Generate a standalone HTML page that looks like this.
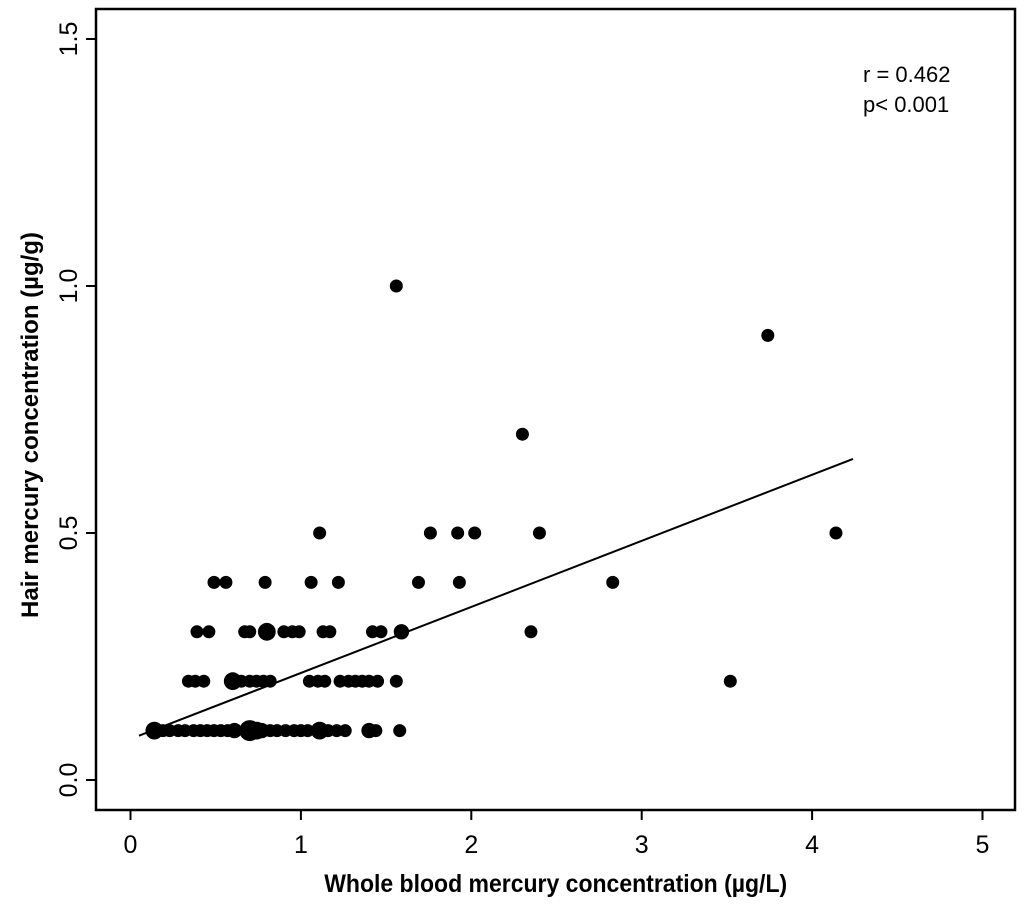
<!DOCTYPE html>
<html><head><meta charset="utf-8"><style>
body{margin:0;background:#fff;}
svg{display:block;font-family:"Liberation Sans",Arial,sans-serif;}
</style></head><body>
<svg id="chart" width="1024" height="911" viewBox="0 0 1024 911">
<rect x="96" y="9" width="919" height="801" fill="none" stroke="#000" stroke-width="2.5"/>
<g id="axes"></g>
<g id="points"></g>
<line id="fit" stroke="#000" stroke-width="2"/>
<text x="863" y="82" font-size="22">r = 0.462</text>
<text x="863" y="112" font-size="22">p&lt; 0.001</text>
<text x="556" y="892" font-size="25" font-weight="bold" text-anchor="middle" transform="scale(0.92,1) translate(48,0)">Whole blood mercury concentration (µg/L)</text>
<text transform="translate(38,425) rotate(-90)" font-size="24" font-weight="bold" text-anchor="middle">Hair mercury concentration (µg/g)</text>
</svg>
<script>
const xTicks=[0,1,2,3,4,5];
const yTicks=[0.0,0.5,1.0,1.5];
const yTickLabels=["0.0","0.5","1.0","1.5"];
const xVals=[0.49,0.56,0.79,1.06,1.22,1.69,1.93,2.83,
1.11,1.76,1.92,2.02,2.40,4.14,
0.39,0.46,0.67,0.70,0.80,0.90,0.95,0.99,1.13,1.17,1.42,1.47,1.59,2.35,
0.34,0.38,0.43,0.60,0.65,0.70,0.74,0.78,0.82,1.05,1.10,1.14,1.23,1.28,1.32,1.36,1.40,1.45,1.56,3.52,
0.14,0.19,0.23,0.28,0.32,0.37,0.41,0.45,0.49,0.53,0.57,0.61,0.70,0.74,0.77,0.82,0.86,0.91,0.96,1.00,1.04,1.11,1.16,1.21,1.26,1.40,1.44,1.58,
1.56,3.74,2.30];
const yVals=[0.4,0.4,0.4,0.4,0.4,0.4,0.4,0.4,
0.5,0.5,0.5,0.5,0.5,0.5,
0.3,0.3,0.3,0.3,0.3,0.3,0.3,0.3,0.3,0.3,0.3,0.3,0.3,0.3,
0.2,0.2,0.2,0.2,0.2,0.2,0.2,0.2,0.2,0.2,0.2,0.2,0.2,0.2,0.2,0.2,0.2,0.2,0.2,0.2,
0.1,0.1,0.1,0.1,0.1,0.1,0.1,0.1,0.1,0.1,0.1,0.1,0.1,0.1,0.1,0.1,0.1,0.1,0.1,0.1,0.1,0.1,0.1,0.1,0.1,0.1,0.1,0.1,
1.0,0.9,0.7];
const counts=[1,1,1,1,1,1,1,1, 1,1,1,1,1,1, 1,1,1,1,3,1,1,1,1,1,1,1,2,1,
1,1,1,3,1,1,1,1,1,1,1,1,1,1,1,1,1,1,1,1,
3,1,1,1,1,1,1,1,1,1,1,2,6,3,2,1,1,1,1,1,1,3,1,1,1,2,1,1, 1,1,1];
const fitX=[0.05,4.24];
const fitIntercept=0.083, fitSlope=0.1337;
const X=v=>130.5+v*170.4, Y=v=>780-v*494;
const NS="http://www.w3.org/2000/svg";
const ax=document.getElementById('axes');
function mk(t,a,p){const e=document.createElementNS(NS,t);for(const k in a)e.setAttribute(k,a[k]);p.appendChild(e);return e;}
xTicks.forEach(t=>{
 const l=mk('line',{x1:X(t),x2:X(t),y1:811,y2:820,stroke:'#000','stroke-width':2},ax);
 
 
 const tx=mk('text',{x:X(t),y:853,'font-size':25,'text-anchor':'middle'},ax);tx.textContent=t;
 
 
});
yTicks.forEach((t,i)=>{
 const l=mk('line',{x1:86,x2:95,y1:Y(t),y2:Y(t),stroke:'#000','stroke-width':2},ax);
 
 
 const tx=mk('text',{transform:`translate(77,${Y(t)}) rotate(-90)`,'font-size':25,'text-anchor':'middle'},ax);tx.textContent=yTickLabels[i];
 
 
});
const pg=document.getElementById('points');
xVals.forEach((v,i)=>{
 const r=6.5+Math.min(4,(counts[i]-1)*1.2);
 const c=mk('circle',{cx:X(v),cy:Y(yVals[i]),r:r,fill:'#000'},pg);
 
 
});
const f=document.getElementById('fit');
f.setAttribute('x1',X(fitX[0]));f.setAttribute('y1',Y(fitIntercept+fitSlope*fitX[0]));
f.setAttribute('x2',X(fitX[1]));f.setAttribute('y2',Y(fitIntercept+fitSlope*fitX[1]));
</script>
</body></html>
